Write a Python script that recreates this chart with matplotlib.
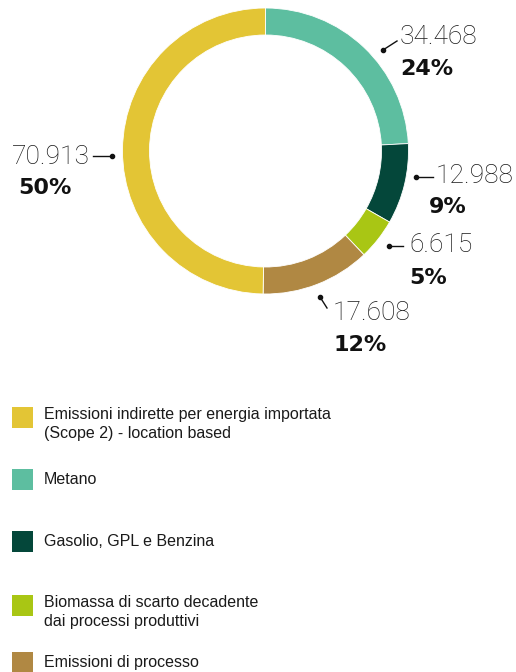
import matplotlib
matplotlib.use("Agg")
import matplotlib.pyplot as plt
from matplotlib.patches import Rectangle

# Emission sources (tCO2e), drawn clockwise from 12 o'clock
categories = [
    "Metano",
    "Gasolio, GPL e Benzina",
    "Biomassa di scarto decadente\ndai processi produttivi",
    "Emissioni di processo",
    "Emissioni indirette per energia importata\n(Scope 2) - location based",
]
values = [34.468, 12.988, 6.615, 17.608, 70.913]
value_labels = ["34.468", "12.988", "6.615", "17.608", "70.913"]
pct_labels = ["24%", "9%", "5%", "12%", "50%"]
colors = ["#5DBEA0", "#04473A", "#A9C614", "#B08843", "#E3C535"]

# legend order
legend_order = [4, 0, 1, 2, 3]

W, H = 516, 672
fig = plt.figure(figsize=(W / 100, H / 100), dpi=100)

# donut axes, square in pixels
cx, cy, r = 265.5, 151, 143
ax = fig.add_axes([(cx - r) / W, 1 - (cy + r) / H, 2 * r / W, 2 * r / H])
ax.pie(values, colors=colors, startangle=90, counterclock=False, radius=1,
       wedgeprops=dict(width=27 / 143, edgecolor="white", linewidth=0.6))
ax.set_xlim(-1, 1)
ax.set_ylim(-1, 1)
ax.set_aspect("equal")
ax.axis("off")

# overlay axes in pixel coordinates for labels and legend
ov = fig.add_axes([0, 0, 1, 1])
ov.set_xlim(0, W)
ov.set_ylim(H, 0)
ov.axis("off")

num_font = dict(family=["Roboto", "DejaVu Sans"], fontweight="light", fontsize=19, color="#1a1a1a")
pct_font = dict(family=["DejaVu Sans"], fontweight="bold", fontsize=16, color="#111111")

# (value x, value y, pct x, pct y, leader line points, dot point, value alignment)
placements = [
    (400, 37, 400, 69, [(383, 50), (397, 41)], (383, 50), "left"),
    (436, 176, 429, 207, [(416, 177), (433, 177)], (416, 177), "left"),
    (409, 245, 409, 278, [(389, 246), (403, 246)], (389, 246), "left"),
    (333, 313, 333, 345, [(320, 297), (327, 308)], (320, 297), "left"),
    (90, 157, 18, 188, [(93, 156), (112, 156)], (112, 156), "right"),
]

for i, (vx, vy, px, py, line, dot, ha) in enumerate(placements):
    ov.text(vx, vy, value_labels[i], ha=ha, va="center", **num_font)
    ov.text(px, py, pct_labels[i], ha="left", va="center", **pct_font)
    ov.plot([p[0] for p in line], [p[1] for p in line], color="#111111", lw=1)
    ov.plot([dot[0]], [dot[1]], "o", color="#111111", ms=3)

# legend
leg_font = dict(family=["Liberation Sans", "DejaVu Sans"], fontsize=11.5, color="#1a1a1a")
leg_y = [417, 479, 541, 605, 662]
for y, i in zip(leg_y, legend_order):
    ov.add_patch(Rectangle((12, y - 10), 21, 21, color=colors[i], lw=0))
    ov.text(44, y + 7 if "\n" in categories[i] else y, categories[i],
            ha="left", va="center", linespacing=1.3, **leg_font)

fig.savefig("out.png", dpi=100)
